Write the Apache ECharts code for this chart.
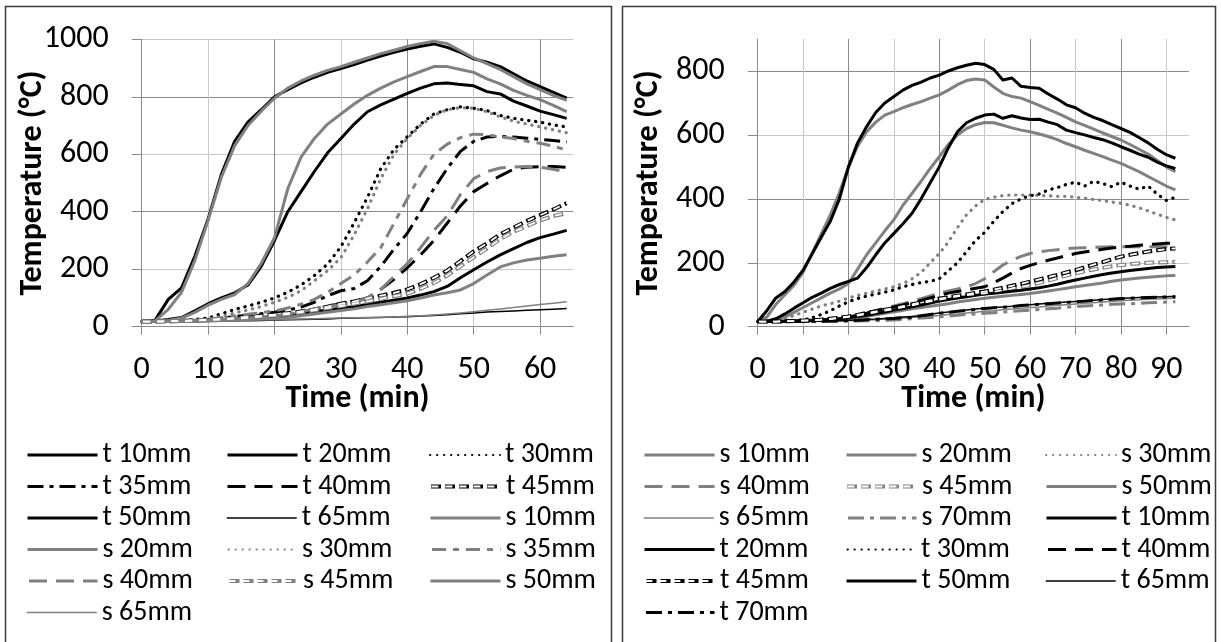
<!DOCTYPE html>
<html><head><meta charset="utf-8">
<script src="https://cdn.jsdelivr.net/npm/echarts@6/dist/echarts.min.js"></script>
<style>
html,body{margin:0;padding:0;background:#fff;}
#c1{position:absolute;left:0;top:0;width:617px;height:642px;}
#c2{position:absolute;left:617px;top:0;width:604px;height:642px;}
</style>
</head><body><div id="c1"></div><div id="c2"></div>
<script>
// ---------------- DATA: left chart (time in min, temperature in °C) ----------------
const leftTime = [0,2,4,6,8,10,12,14,16,18,20,22,24,26,28,30,32,34,36,38,40,42,44,46,48,50,52,54,56,58,60,62,64];
const L_t10 = [18,22,95,135,245,375,530,645,712,755,800,825,848,868,885,898,912,928,942,955,966,976,984,972,955,932,920,905,880,855,835,815,795];
const L_t20 = [18,20,25,32,55,80,100,118,145,210,300,400,470,540,605,655,705,748,772,792,812,830,845,848,843,838,818,810,785,768,750,738,725];
const L_t30 = [18,19,20,22,25,30,45,60,72,85,100,120,145,178,218,278,362,450,550,617,661,705,740,755,765,760,752,735,725,718,712,702,695];
const L_t35 = [18,18,19,20,22,25,30,35,40,45,50,58,68,85,108,125,133,160,210,270,325,400,480,550,610,645,660,662,660,656,652,648,643];
const L_t40 = [18,18,19,20,21,23,25,27,30,32,35,42,50,60,72,80,88,100,130,165,205,250,300,360,420,470,498,525,548,555,557,557,555];
const L_t45 = [18,18,19,20,22,24,27,30,34,38,42,47,53,60,70,80,88,98,108,118,130,148,170,195,228,262,290,322,345,368,388,408,430];
const L_t50 = [18,18,18,19,20,21,22,24,26,28,31,36,45,52,58,64,70,77,85,92,100,110,122,140,170,198,225,250,272,293,310,322,335];
const L_t65 = [18,18,18,19,19,20,20,21,21,22,23,24,25,26,27,29,30,31,32,34,35,37,39,42,45,48,51,53,55,57,59,61,63];
const L_s10 = [18,20,60,120,230,370,520,630,700,750,795,830,855,875,892,905,920,935,950,962,975,985,993,985,960,935,915,895,870,845,825,805,788];
const L_s20 = [18,19,22,30,50,75,95,112,150,220,310,480,590,655,705,740,775,805,830,852,870,888,905,905,895,885,862,845,822,805,790,770,748];
const L_s30 = [18,18,19,20,22,25,35,48,58,70,85,102,125,160,195,240,320,410,515,600,655,700,735,755,762,760,748,730,715,705,695,685,675];
const L_s35 = [18,18,19,20,22,26,31,37,43,49,55,65,78,95,120,150,180,225,275,360,445,530,600,635,658,670,668,660,655,645,638,628,615];
const L_s40 = [18,18,19,20,21,23,25,27,30,33,37,44,52,62,70,76,85,100,130,175,220,275,335,385,460,515,540,552,556,557,555,548,538];
const L_s45 = [18,18,19,20,21,23,25,28,31,35,39,44,50,57,65,72,80,88,97,106,115,132,152,178,210,242,272,305,330,350,370,385,395];
const L_s50 = [18,18,18,19,20,21,22,23,25,27,28,32,38,44,50,56,62,70,76,83,90,100,110,118,128,150,180,208,222,232,238,245,250];
const L_s65 = [18,18,18,19,19,20,21,22,23,24,25,26,27,28,29,30,31,32,33,34,36,38,41,44,48,52,57,62,67,72,77,82,87];

// ---------------- DATA: right chart ----------------
const rightTime = [0,2,4,6,8,10,12,14,16,18,20,22,24,26,28,30,32,34,36,38,40,42,44,46,48,50,52,54,56,58,60,62,64,66,68,70,72,74,76,78,80,82,84,86,88,90,92];
const R_s10 = [16,30,70,100,130, 170,230,290,350,420, 500,565,610,640,662, 673,685,695,704,715, 725,740,757,770,775, 772,750,730,720,715, 704,692,680,668,655, 641,630,618,606,595, 584,570,555,540,520, 500,485];
const R_s20 = [16,17,20,30,45, 60,75,90,105,118, 135,180,225,262,300, 335,380,417,455,495, 532,570,600,620,632, 639,638,630,622,615, 610,603,595,585,573, 563,552,542,532,521, 511,498,485,470,455, 440,428];
const R_s30 = [16,16,18,25,35, 45,55,65,72,80, 90,98,105,112,118, 125,135,150,170,200, 229,265,310,350,378, 398,405,410,412,412, 412,410,410,408,408, 405,402,398,395,390, 386,380,372,362,352, 342,334];
const R_s40 = [16,16,16,17,17, 18,19,20,22,25, 30,36,42,50,58, 65,72,80,88,96, 105,112,118,125,135, 150,172,193,208,220, 229,234,238,241,244, 246,247,248,249,250, 250,250,250,250,250, 250,250];
const R_s45 = [16,16,16,17,18, 19,20,22,24,27, 31,35,40,45,50, 55,61,67,73,79, 85,90,95,99,102, 104,109,114,120,125, 130,137,144,152,160, 167,173,179,184,189, 193,196,198,200,201, 202,203];
const R_s50 = [16,16,16,17,17, 18,19,20,21,23, 25,28,32,37,42, 47,51,56,60,64, 68,72,77,81,85, 89,92,95,98,101, 104,108,112,116,120, 125,129,133,137,142, 146,149,152,155,157, 159,160];
const R_s65 = [16,16,16,16,16, 17,17,17,18,18, 19,20,21,22,24, 25,27,29,31,33, 35,38,40,43,45, 48,50,53,55,58, 60,62,65,67,69, 71,73,75,77,79, 81,83,84,86,87, 88,89];
const R_s70 = [16,16,16,16,16, 16,16,17,17,17, 18,18,19,19,20, 21,23,25,27,29, 31,33,36,38,40, 42,44,46,48,50, 52,54,56,58,61, 63,65,66,68,70, 71,72,73,75,76, 77,78];
const R_t10 = [16,50,90,110,140, 177,228,280,330,400, 500,575,626,670,700, 720,740,755,765,778, 787,800,810,818,824, 820,805,772,778,752, 748,746,728,712,694, 685,668,655,645,632, 620,608,592,575,555, 538,527];
const R_t20 = [16,17,25,40,58, 75,92,105,120,132, 142,152,185,225,262, 292,322,355,400,450, 500,560,610,638,652, 662,665,652,660,653, 648,649,640,632,615, 607,600,592,585,575, 563,552,540,530,515, 503,495];
const R_t30 = [16,16,17,18,19, 21,28,38,50,65, 78,88,96,102,108, 115,125,132,138,142, 150,175,200,235,270, 295,330,360,385,400, 410,415,428,435,445, 452,440,455,448,438, 452,440,430,440,415, 395,405];
const R_t40 = [16,16,16,17,17, 18,19,20,22,25, 30,36,42,50,56, 62,68,75,82,90, 98,105,110,115,120, 125,138,152,168,182, 192,200,208,215,222, 229,234,238,242,246, 250,252,255,257,259, 261,262];
const R_t45 = [16,16,16,17,18, 19,20,22,25,28, 32,37,43,48,53, 58,64,70,76,82, 88,92,97,101,106, 110,116,122,128,134, 141,148,155,162,170, 177,186,194,202,211, 219,225,230,235,239, 243,245];
const R_t50 = [16,16,16,17,18, 19,20,21,23,25, 28,32,36,41,46, 52,57,62,68,74, 80,85,90,94,98, 102,105,108,111,114, 118,122,127,133,140, 146,152,158,163,168, 172,176,179,182,185, 187,188];
const R_t65 = [16,16,16,16,16, 17,17,18,18,19, 20,21,23,24,26, 28,30,32,35,39, 43,46,49,52,55, 58,60,62,64,67, 69,71,73,75,77, 79,81,83,85,87, 89,90,91,92,93, 94,95];
const R_t70 = [16,16,16,16,16, 17,17,17,18,18, 19,20,22,23,25, 26,28,30,34,38, 42,45,48,51,54, 57,59,61,63,66, 68,70,72,74,76, 78,80,82,84,86, 88,89,90,91,92, 93,94];

// ---------------- tick labels ----------------
const leftXTicks = [0,10,20,30,40,50,60];
const leftYTicks = [0,200,400,600,800,1000];
const rightXTicks = [0,10,20,30,40,50,60,70,80,90];
const rightYTicks = [0,200,400,600,800];

// ---------------- series lists (name, values, style key) ----------------
const leftSeries = [
  ['t 10mm', L_t10, 'BS'], ['t 20mm', L_t20, 'BS'], ['t 30mm', L_t30, 'BD'],
  ['t 35mm', L_t35, 'BDD'], ['t 40mm', L_t40, 'BLD'], ['t 45mm', L_t45, 'BH'],
  ['t 50mm', L_t50, 'BS'], ['t 65mm', L_t65, 'BT'], ['s 10mm', L_s10, 'GS'],
  ['s 20mm', L_s20, 'GS'], ['s 30mm', L_s30, 'GD'], ['s 35mm', L_s35, 'GDD2'],
  ['s 40mm', L_s40, 'GLD'], ['s 45mm', L_s45, 'GH'], ['s 50mm', L_s50, 'GS'],
  ['s 65mm', L_s65, 'GT']
];
const rightSeries = [
  ['s 10mm', R_s10, 'GS'], ['s 20mm', R_s20, 'GS'], ['s 30mm', R_s30, 'GD'],
  ['s 40mm', R_s40, 'GLD'], ['s 45mm', R_s45, 'GH'], ['s 50mm', R_s50, 'GS'],
  ['s 65mm', R_s65, 'GT'], ['s 70mm', R_s70, 'GDD'], ['t 10mm', R_t10, 'BS'],
  ['t 20mm', R_t20, 'BS'], ['t 30mm', R_t30, 'BD'], ['t 40mm', R_t40, 'BLD'],
  ['t 45mm', R_t45, 'BH'], ['t 50mm', R_t50, 'BS'], ['t 65mm', R_t65, 'BT'],
  ['t 70mm', R_t70, 'BDD']
];

// ---------------- styles ----------------
const BLACK = '#000000', GRAY = '#808080';
const STYLES = {
  BS:  {color: BLACK, width: 3, lw: 3},
  BT:  {color: BLACK, width: 1.5, lw: 1.5},
  BD:  {color: BLACK, width: 3.2, type: [0.3, 6.7], cap: 'round', lw: 2},
  BDD: {color: BLACK, width: 3, type: [16, 6, 4, 6], lw: 3},
  BLD: {color: BLACK, width: 3, type: [18, 9], lw: 3},
  BH:  {color: BLACK, width: 4, type: [10, 4], lw: 4, inner: {color: '#ffffff', width: 1.8, type: [7, 7], offset: -1.5}},
  GS:  {color: GRAY, width: 3, lw: 3},
  GT:  {color: GRAY, width: 1.5, lw: 1.5},
  GD:  {color: GRAY, width: 3.2, type: [0.3, 6.7], cap: 'round', lw: 2},
  GDD: {color: GRAY, width: 3, type: [16, 6, 4, 6], lw: 3},
  GDD2:{color: GRAY, width: 3, type: [14, 7, 6, 7], lw: 3},
  GLD: {color: GRAY, width: 3, type: [18, 9], lw: 3},
  GH:  {color: GRAY, width: 4, type: [10, 4], lw: 4, inner: {color: '#ffffff', width: 1.8, type: [7, 7], offset: -1.5}}
};

const FONT = 'Carlito, Lato, "Open Sans", sans-serif';
const FS = 32;      // axis labels / titles
const LFS = 28;     // legend text
const MAJOR = '#8a8a8a', MINOR = '#c8c8c8';
const plain = function (v) { return String(v); };

function buildOption(cfg) {
  const series = [];
  const legends = [];
  cfg.list.forEach(function (item, idx) {
    const name = item[0], vals = item[1], st = STYLES[item[2]];
    const data = cfg.time.map(function (t, i) { return [t, vals[i]]; });
    series.push({
      type: 'line', name: name, data: data, symbol: 'none', showSymbol: false,
      silent: true, animation: false, z: 2,
      lineStyle: {color: st.color, width: st.width, type: st.type || 'solid', cap: st.cap || 'butt', join: 'round'}
    });
    if (st.inner) {
      series.push({
        type: 'line', name: name + ' ', data: data, symbol: 'none', showSymbol: false,
        silent: true, animation: false, z: 3,
        lineStyle: {color: st.inner.color, width: st.inner.width, type: st.inner.type, dashOffset: st.inner.offset, cap: 'butt'}
      });
    }
    const col = idx % 3, row = Math.floor(idx / 3);
    const base = {
      left: cfg.legCols[col], top: cfg.legRow0 + row * cfg.legRowGap - 17,
      padding: 0, itemGap: 0, itemWidth: 70, itemHeight: 14,
      selectedMode: false, orient: 'horizontal',
      itemStyle: {opacity: 0}
    };
    legends.push(Object.assign({}, base, {
      data: [name],
      textStyle: {fontFamily: FONT, fontSize: LFS, color: '#000', lineHeight: 34},
      lineStyle: {width: st.lw}
    }));
    if (st.inner) {
      legends.push(Object.assign({}, base, {
        data: [name + ' '],
        textStyle: {fontFamily: FONT, fontSize: LFS, color: 'rgba(0,0,0,0)', lineHeight: 34},
        lineStyle: {width: st.inner.width}
      }));
    }
  });
  return {
    animation: false,
    backgroundColor: '#ffffff',
    grid: {left: cfg.grid[0], top: cfg.grid[1], width: cfg.grid[2], height: cfg.grid[3], containLabel: false},
    xAxis: {
      type: 'value', min: 0, max: cfg.xMax, interval: 5,
      axisLine: {show: true, onZero: false, lineStyle: {color: MAJOR, width: 1}},
      axisTick: {show: true, customValues: cfg.xTicks, length: 8, lineStyle: {color: MAJOR, width: 1}},
      axisLabel: {customValues: cfg.xTicks, formatter: plain, margin: 27, fontFamily: FONT, fontSize: FS, color: '#000'},
      splitLine: {show: true, lineStyle: {color: [MAJOR, MINOR], width: 1}},
      name: 'Time (min)', nameLocation: 'middle', nameGap: 56, nameMoveOverlap: false,
      nameTextStyle: {fontFamily: FONT, fontSize: FS, fontWeight: 'bold', color: '#000'}
    },
    yAxis: {
      type: 'value', min: 0, max: cfg.yMax, interval: 100,
      axisLine: {show: true, lineStyle: {color: MAJOR, width: 1}},
      axisTick: {show: true, customValues: cfg.yTicks, length: 10, lineStyle: {color: MAJOR, width: 1}},
      axisLabel: {customValues: cfg.yTicks, formatter: plain, margin: 33, fontFamily: FONT, fontSize: FS, color: '#000'},
      splitLine: {show: true, lineStyle: {color: [MAJOR, MINOR], width: 1}},
      name: 'Temperature (°C)', nameLocation: 'middle', nameGap: 93, nameRotate: 90, nameMoveOverlap: false,
      nameTextStyle: {fontFamily: FONT, fontSize: FS, fontWeight: 'bold', color: '#000'}
    },
    legend: legends,
    series: series,
    graphic: [{
      type: 'rect', silent: true, z: 0,
      shape: {x: cfg.border[0], y: cfg.border[1], width: cfg.border[2], height: cfg.border[3]},
      style: {fill: 'none', stroke: '#3a3a3a', lineWidth: 1.5}
    }]
  };
}

const chartL = echarts.init(document.getElementById('c1'), null, {renderer: 'canvas'});
chartL.setOption(buildOption({
  time: leftTime, list: leftSeries, xMax: 65, yMax: 1000,
  xTicks: leftXTicks, yTicks: leftYTicks,
  grid: [141.7, 39.3, 431.6, 287.4],
  border: [5.5, 6.5, 606, 660],
  legCols: [26, 226, 429], legRow0: 455, legRowGap: 31.5
}));
const chartR = echarts.init(document.getElementById('c2'), null, {renderer: 'canvas'});
chartR.setOption(buildOption({
  time: rightTime, list: rightSeries, xMax: 95, yMax: 900,
  xTicks: rightXTicks, yTicks: rightYTicks,
  grid: [140.7, 39, 431.3, 287.7],
  border: [5.5, 6.5, 593, 660],
  legCols: [26, 228, 428], legRow0: 455, legRowGap: 31.5
}));
</script>
</body></html>
